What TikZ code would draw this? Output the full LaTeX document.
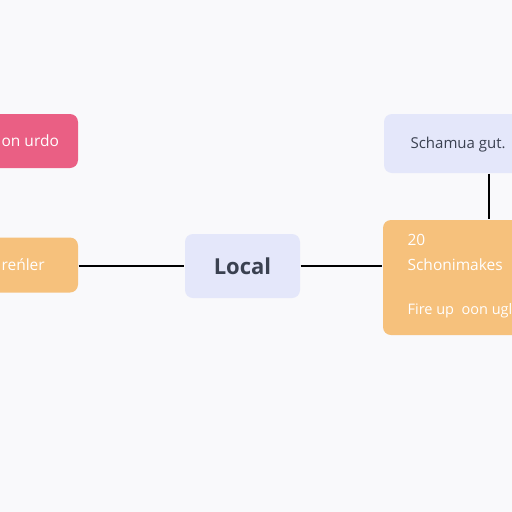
\documentclass[tikz,border=0pt]{standalone}
\usepackage{fontspec}
\setmainfont{Open Sans}
\usepackage{tikz}
\definecolor{bgc}{HTML}{F9F9FB}
\definecolor{pinkc}{HTML}{EA5F84}
\definecolor{orangec}{HTML}{F6C17C}
\definecolor{lavc}{HTML}{E4E7FA}
\definecolor{inkc}{HTML}{3A4150}

\begin{document}
\begin{tikzpicture}[x=1pt, y=-1pt, line width=1.2pt,
        box/.style={rounded corners=8pt, inner sep=0pt},
        wtext/.style={text=white, inner sep=0pt, font=\fontsize{15.5}{19}\selectfont},
        dtext/.style={text=inkc, inner sep=0pt, font=\fontsize{15}{18}\selectfont}]
            % Hintergrund.
            \fill[bgc] (0,0) rectangle (512,512);
            \useasboundingbox (0,0) rectangle (512,512);

            % Kaesten.
            \node[box, fill=pinkc, minimum width=108pt, minimum height=54pt] (pinkbox) at (24,141) {};
            \node[box, fill=orangec, minimum width=108pt, minimum height=55pt] (leftbox) at (24,265) {};
            \node[box, fill=lavc, minimum width=115pt, minimum height=64pt, text=inkc,
                  font=\bfseries\fontsize{22}{26}\selectfont] (local) at (242.5,266) {Local};
            \node[box, fill=lavc, minimum width=176pt, minimum height=59pt] (topbox) at (472,143.5) {};
            \node[box, fill=orangec, minimum width=177pt, minimum height=115pt] (rightbox) at (471.5,277.5) {};
            \coordinate (vx) at (489,0);

            % Linien.
            \draw[color=black] (leftbox.east |- local.west) -- (local.west);
            \draw[color=black] (local.east) -- (local.east -| rightbox.west);
            \draw[color=black] (vx |- topbox.south) -- (vx |- rightbox.north);

            % Beschriftung.
            \node[wtext, anchor=west] (pinktxt) at (1,141) {on urdo};
            \node[wtext, anchor=west] (lefttxt) at (1,265) {reńler};
            \node[dtext, anchor=west] (toptxt) at (410,145) {Schamua gut.};
            \node[wtext, anchor=west] (txta) at (407,240) {20};
            \node[wtext, anchor=west] (txtb) at (407,265) {Schonimakes};
            \node[wtext, anchor=west, font=\fontsize{14.5}{18}\selectfont] (txtc) at (407,311) {Fire up \ oon ugl};
        \end{tikzpicture}
\end{document}
